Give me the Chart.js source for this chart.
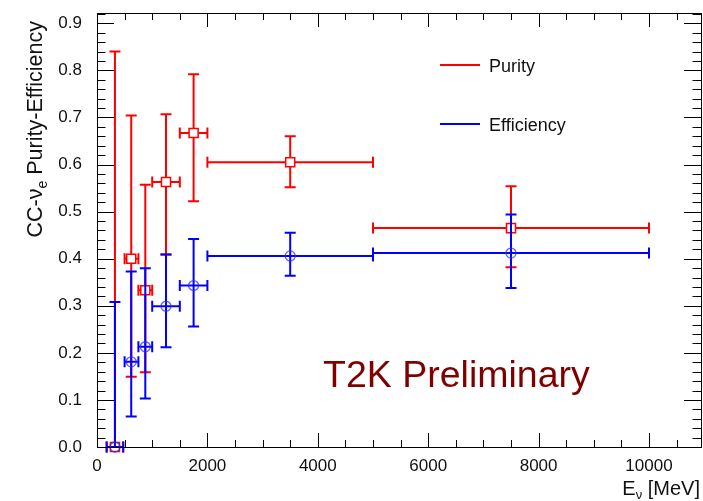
<!DOCTYPE html>
<html>
<head>
<meta charset="utf-8">
<script src="https://cdn.jsdelivr.net/npm/chart.js@4.4.1/dist/chart.umd.min.js"></script>
<style>
  body { margin: 0; background: #fff; }
  #wrap { width: 703px; height: 501px; }
</style>
</head>
<body>
<div id="wrap"><canvas id="myChart" width="703" height="501"></canvas></div>
<script>
// bins in neutrino energy (MeV)
const xVal  = [325, 620, 875, 1250, 1750, 3500, 7500];
const xLow  = [175, 500, 750, 1000, 1500, 2000, 5000];
const xHigh = [475, 750, 1000, 1500, 2000, 5000, 10000];

const purity     = [0.000, 0.400, 0.333, 0.563, 0.667, 0.605, 0.465];
const purityLow  = [0.000, 0.149, 0.159, 0.409, 0.522, 0.552, 0.382];
const purityHigh = [0.840, 0.704, 0.557, 0.707, 0.792, 0.660, 0.554];

const efficiency = [0.000, 0.181, 0.213, 0.299, 0.343, 0.406, 0.412];
const effLow     = [0.000, 0.065, 0.103, 0.212, 0.256, 0.364, 0.338];
const effHigh    = [0.308, 0.373, 0.380, 0.409, 0.442, 0.455, 0.494];

const xTicks = [0, 2000, 4000, 6000, 8000, 10000];
const yTicks = [0, 0.1, 0.2, 0.3, 0.4, 0.5, 0.6, 0.7, 0.8, 0.9];

const FONT = '"Liberation Sans", Arial, Helvetica, sans-serif';
const RED = 'rgb(255,0,0)';
const BLUE = 'rgb(0,0,255)';

function makePoints(ys, lo, hi) {
  return xVal.map((x, i) => ({x: x, y: ys[i], xl: xLow[i], xh: xHigh[i], yl: lo[i], yh: hi[i]}));
}

// error bars, drawn just before each dataset's markers
const errorBars = {
  id: 'errorBars',
  beforeDatasetDraw(chart, args) {
    const ds = chart.data.datasets[args.index];
    const xs = chart.scales.x, ys = chart.scales.y;
    const ctx = chart.ctx;
    const cap = 5.5;
    ctx.save();
    ctx.strokeStyle = ds.borderColor;
    ctx.lineWidth = 2;
    ds.data.forEach(p => {
      const px = xs.getPixelForValue(p.x), py = ys.getPixelForValue(p.y);
      const x1 = xs.getPixelForValue(p.xl), x2 = xs.getPixelForValue(p.xh);
      const y1 = ys.getPixelForValue(p.yl), y2 = ys.getPixelForValue(p.yh);
      ctx.beginPath();
      ctx.moveTo(x1, py); ctx.lineTo(x2, py);
      ctx.moveTo(x1, py - cap); ctx.lineTo(x1, py + cap);
      ctx.moveTo(x2, py - cap); ctx.lineTo(x2, py + cap);
      ctx.moveTo(px, y1); ctx.lineTo(px, y2);
      if (p.yh > p.y) { ctx.moveTo(px - cap, y2); ctx.lineTo(px + cap, y2); }
      if (p.yl < p.y) { ctx.moveTo(px - cap, y1); ctx.lineTo(px + cap, y1); }
      ctx.stroke();
    });
    ctx.restore();
  }
};

// ROOT style frame, inner ticks, legend and labels
const frameDeco = {
  id: 'frameDeco',
  afterDraw(chart) {
    const ctx = chart.ctx;
    const a = chart.chartArea;
    const xs = chart.scales.x, ys = chart.scales.y;
    ctx.save();
    ctx.strokeStyle = '#000';
    ctx.lineWidth = 1;
    ctx.strokeRect(Math.round(a.left) + 0.5, Math.round(a.top) + 0.5,
                   Math.round(a.right - a.left) - 1, Math.round(a.bottom - a.top));
    ctx.beginPath();
    for (let v = 0; v <= xs.max; v += 500) {
      const px = Math.round(xs.getPixelForValue(v)) + 0.5;
      const len = (v % 2000 === 0) ? 14 : 7;
      ctx.moveTo(px, a.bottom); ctx.lineTo(px, a.bottom - len);
      ctx.moveTo(px, a.top); ctx.lineTo(px, a.top + len);
    }
    for (let k = 0; k <= 46; k++) {
      const v = k * 0.02;
      if (v > ys.max) break;
      const py = Math.round(ys.getPixelForValue(v)) + 0.5;
      const len = (k % 5 === 0) ? 17 : 8.5;
      ctx.moveTo(a.left, py); ctx.lineTo(a.left + len, py);
      ctx.moveTo(a.right - 1, py); ctx.lineTo(a.right - 1 - len, py);
    }
    ctx.stroke();

    // legend
    ctx.lineWidth = 2;
    ctx.strokeStyle = RED;
    ctx.beginPath(); ctx.moveTo(440, 65); ctx.lineTo(480, 65); ctx.stroke();
    ctx.strokeStyle = BLUE;
    ctx.beginPath(); ctx.moveTo(440, 124); ctx.lineTo(480, 124); ctx.stroke();
    ctx.fillStyle = '#111';
    ctx.font = '18px ' + FONT;
    ctx.textAlign = 'left';
    ctx.textBaseline = 'alphabetic';
    ctx.fillText('Purity', 489, 72);
    ctx.fillText('Efficiency', 489, 131);

    // T2K Preliminary
    ctx.fillStyle = 'rgb(128,0,0)';
    ctx.font = '37.5px ' + FONT;
    ctx.fillText('T2K Preliminary', 323, 387);

    // x axis title E_nu [MeV]
    ctx.fillStyle = '#111';
    let big = '20px ' + FONT, small = '13px ' + FONT;
    ctx.font = big;
    const wE = ctx.measureText('E').width;
    const wR = ctx.measureText(' [MeV]').width;
    ctx.font = small;
    const wN = ctx.measureText('ν').width;
    let x0 = 700 - (wE + wN + wR);
    ctx.font = big; ctx.fillText('E', x0, 495);
    ctx.font = small; ctx.fillText('ν', x0 + wE, 499);
    ctx.font = big; ctx.fillText(' [MeV]', x0 + wE + wN, 495);

    // y axis title CC-nu_e Purity-Efficiency
    big = '21.5px ' + FONT; small = '14px ' + FONT;
    ctx.translate(41.5, 21);
    ctx.rotate(-Math.PI / 2);
    ctx.font = big;
    const w1 = ctx.measureText('CC-ν').width;
    const w3 = ctx.measureText(' Purity-Efficiency').width;
    ctx.font = small;
    const w2 = ctx.measureText('e').width;
    let s = -(w1 + w2 + w3);
    ctx.font = big; ctx.fillText('CC-ν', s, 0);
    ctx.font = small; ctx.fillText('e', s + w1, 5);
    ctx.font = big; ctx.fillText(' Purity-Efficiency', s + w1 + w2, 0);
    ctx.restore();
  }
};

function noPad(s) {
  s.paddingTop = 0; s.paddingBottom = 0; s.paddingLeft = 0; s.paddingRight = 0;
}

const ctx = document.getElementById('myChart');

const purity_dataset = {
  label: 'Purity',
  data: makePoints(purity, purityLow, purityHigh),
  borderColor: RED,
  backgroundColor: '#fff',
  pointStyle: 'rect',
  pointRadius: 6.4,
  pointBorderWidth: 1.5,
  pointHoverRadius: 6.4,
  showLine: false,
  clip: false,
  order: 2
};

const eff_dataset = {
  label: 'Efficiency',
  data: makePoints(efficiency, effLow, effHigh),
  borderColor: BLUE,
  pointBorderColor: 'rgba(40,40,255,0.75)',
  backgroundColor: 'rgba(0,0,0,0)',
  pointStyle: 'circle',
  pointRadius: 5,
  pointBorderWidth: 1.3,
  pointHoverRadius: 5,
  showLine: false,
  clip: false,
  order: 1
};

const myChart = new Chart(ctx, {
  type: 'scatter',
  data: { datasets: [purity_dataset, eff_dataset] },
  plugins: [errorBars, frameDeco],
  options: {
    responsive: false,
    animation: false,
    devicePixelRatio: 1,
    layout: { autoPadding: false, padding: { top: 13, right: 1, left: 0, bottom: 0 } },
    plugins: { legend: { display: false }, tooltip: { enabled: false } },
    scales: {
      x: {
        type: 'linear',
        min: 0,
        max: 10960,
        grid: { display: false, drawTicks: false },
        border: { display: false },
        afterFit: s => { s.height = 54; noPad(s); },
        afterBuildTicks: s => { s.ticks = xTicks.map(v => ({value: v})); },
        ticks: {
          autoSkip: false, maxRotation: 0, padding: 9,
          color: '#111', font: { family: FONT, size: 17 },
          callback: v => String(v)
        }
      },
      y: {
        type: 'linear',
        min: 0,
        max: 0.922,
        grid: { display: false, drawTicks: false },
        border: { display: false },
        afterFit: s => { s.width = 97; noPad(s); },
        afterBuildTicks: s => { s.ticks = yTicks.map(v => ({value: v})); },
        ticks: {
          autoSkip: false, padding: 15,
          color: '#111', font: { family: FONT, size: 17 },
          callback: v => v.toFixed(1)
        }
      }
    }
  }
});
</script>
</body>
</html>
